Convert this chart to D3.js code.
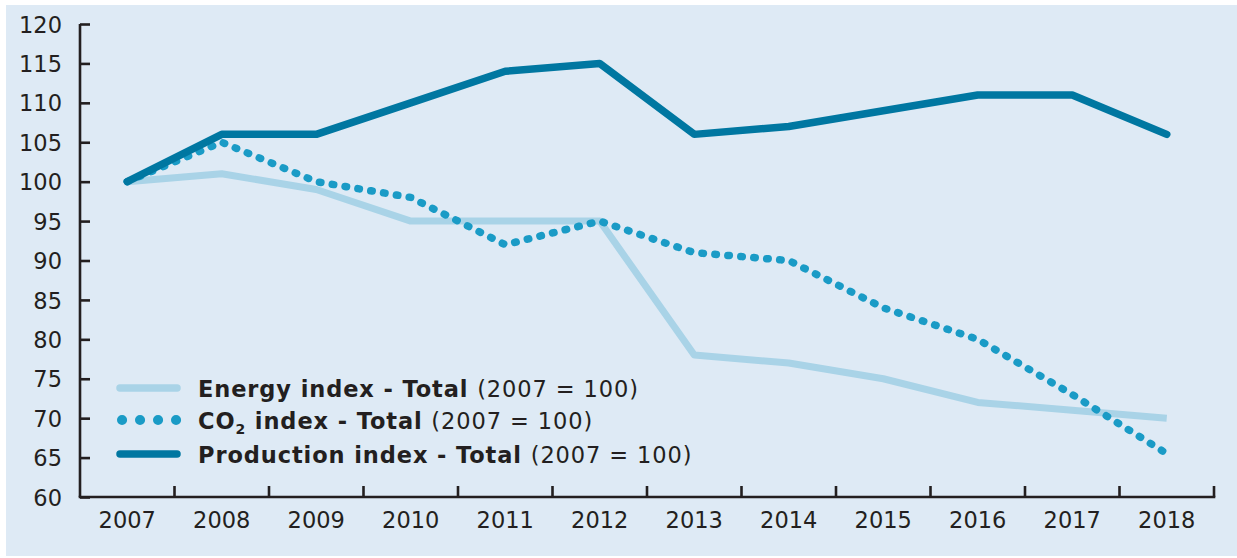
<!DOCTYPE html>
<html>
<head>
<meta charset="utf-8">
<script src="https://cdn.jsdelivr.net/npm/d3@7"></script>
<style>
  html, body { margin: 0; padding: 0; background: #fff; }
  svg { display: block; }
</style>
</head>
<body>
<svg id="mySvg"></svg>
<script>
// values (index, 2007 = 100)
var years = ["2007","2008","2009","2010","2011","2012","2013","2014","2015","2016","2017","2018"];
var energy = [100, 101, 99, 95, 95, 95, 78, 77, 75, 72, 71, 70];
var co2 = [100, 105, 100, 98, 92, 95, 91, 90, 84, 80, 73, 65.5];
var production = [100, 106, 106, 110, 114, 115, 106, 107, 109, 111, 111, 106];
var yTicks = [60, 65, 70, 75, 80, 85, 90, 95, 100, 105, 110, 115, 120];
var legendNames = ["Energy index - Total", "CO2 index - Total", "Production index - Total"];
var legendSuffix = "(2007 = 100)";

var width = 1237, height = 558;
var marginLeft = 80, marginRight = 23, marginTop = 24, marginBottom = 61;
var ink = "#231f20";
var font = "DejaVu Sans, sans-serif";

var colors = { energy: "#a9d3e7", co2: "#1a9bc6", production: "#0077a1" };

const svg = d3.select("#mySvg")
    .attr("width", width)
    .attr("height", height)
    .attr("viewBox", [0, 0, width, height]);

// light blue panel
svg.append("rect")
    .attr("x", 6).attr("y", 5)
    .attr("width", width - 6).attr("height", 551)
    .attr("fill", "#deeaf5");

var x = d3.scaleBand()
    .domain(years)
    .range([marginLeft, width - marginRight])
    .paddingInner(0).paddingOuter(0);
var y = d3.scaleLinear()
    .domain([60, 120])
    .range([height - marginBottom, marginTop]);

// y axis, ticks pointing into the plot
const yAxis = d3.axisRight(y).tickValues(yTicks).tickSize(10).tickFormat(d3.format("d"));
svg.append("g")
    .attr("transform", `translate(${marginLeft},0)`)
    .call(yAxis)
    .call(g => g.select(".domain").attr("d", `M0,${y(120)}V${y(60)}`))
    .call(g => g.selectAll("path, line").attr("stroke", ink).attr("stroke-width", 2.6))
    .call(g => g.selectAll("text")
        .attr("x", -18)
        .attr("dy", "0.36em")
        .attr("text-anchor", "end")
        .attr("fill", ink)
        .attr("font-family", font)
        .attr("font-size", 22.5));

// x axis: ticks on band boundaries, pointing up
var xg = svg.append("g").attr("transform", `translate(0,${y(60)})`);
xg.append("line")
    .attr("x1", marginLeft - 1.3).attr("x2", width - marginRight + 1.3)
    .attr("stroke", ink).attr("stroke-width", 2.6);
xg.selectAll(".btick")
    .data(years.slice(1).concat(["end"]))
    .join("line")
    .attr("class", "btick")
    .attr("x1", d => d === "end" ? x.range()[1] : x(d))
    .attr("x2", d => d === "end" ? x.range()[1] : x(d))
    .attr("y1", 0).attr("y2", -11)
    .attr("stroke", ink).attr("stroke-width", 2.6);
xg.selectAll(".ylab")
    .data(years)
    .join("text")
    .attr("x", d => x(d) + x.bandwidth() / 2)
    .attr("y", 31)
    .attr("text-anchor", "middle")
    .attr("fill", ink)
    .attr("font-family", font)
    .attr("font-size", 22.5)
    .text(d => d);

const line = d3.line()
    .x((d, i) => x(years[i]) + x.bandwidth() / 2)
    .y(d => y(d));

svg.append("path")
    .attr("fill", "none")
    .attr("stroke", colors.energy)
    .attr("stroke-width", 7)
    .attr("stroke-linejoin", "round")
    .attr("d", line(energy));

svg.append("path")
    .attr("fill", "none")
    .attr("stroke", colors.co2)
    .attr("stroke-width", 7.5)
    .attr("stroke-linecap", "round")
    .attr("stroke-dasharray", "1.5 11.5")
    .attr("d", line(co2));

svg.append("path")
    .attr("fill", "none")
    .attr("stroke", colors.production)
    .attr("stroke-width", 7.5)
    .attr("stroke-linecap", "round")
    .attr("stroke-linejoin", "round")
    .attr("d", line(production));

// legend
var legendKeys = ["energy", "co2", "production"];
var legendY = [388, 420, 454];
var lg = svg.append("g");
legendKeys.forEach((k, i) => {
  var row = lg.append("g").attr("transform", `translate(0,${legendY[i]})`);
  row.append("line")
      .attr("x1", k === "co2" ? 122 : 120).attr("x2", k === "co2" ? 176.1 : 177)
      .attr("stroke", colors[k])
      .attr("stroke-width", k === "co2" ? 10 : 7.5)
      .attr("stroke-linecap", "round")
      .attr("stroke-dasharray", k === "co2" ? "0.1 17.9" : null);
  var t = row.append("text")
      .attr("x", 198).attr("y", 8.5)
      .attr("fill", ink)
      .attr("font-family", font)
      .attr("font-size", 22.5)
      .attr("letter-spacing", 0.9);
  if (k === "co2") {
    t.append("tspan").attr("font-weight", "bold").text("CO");
    t.append("tspan").attr("font-weight", "bold").attr("font-size", 14).attr("dy", 5).text("2");
    t.append("tspan").attr("font-weight", "bold").attr("dy", -5).text(legendNames[i].slice(3) + " ");
  } else {
    t.append("tspan").attr("font-weight", "bold").text(legendNames[i] + " ");
  }
  t.append("tspan").attr("font-weight", "normal").text(legendSuffix);
});
</script>
</body>
</html>
